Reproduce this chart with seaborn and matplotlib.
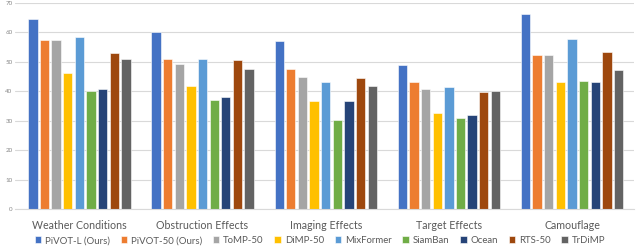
import pandas as pd
import seaborn as sns
import matplotlib.pyplot as plt

categories = ["Weather Conditions", "Obstruction Effects", "Imaging Effects",
              "Target Effects", "Camouflage"]

trackers = ["PiVOT-L (Ours)", "PiVOT-50 (Ours)", "ToMP-50", "DiMP-50",
            "MixFormer", "SiamBan", "Ocean", "RTS-50", "TrDiMP"]

pivot_l = [64.5, 60.0, 57.0, 49.0, 66.3]
pivot_50 = [57.5, 50.9, 47.7, 43.0, 52.3]
tomp_50 = [57.5, 49.3, 44.9, 40.7, 52.3]
dimp_50 = [46.3, 41.7, 36.6, 32.7, 43.0]
mixformer = [58.3, 50.9, 43.3, 41.6, 57.7]
siamban = [40.1, 37.0, 30.2, 30.8, 43.6]
ocean = [40.7, 38.1, 36.6, 32.1, 43.1]
rts_50 = [53.0, 50.6, 44.6, 39.8, 53.5]
trdimp = [50.9, 47.5, 41.7, 40.1, 47.2]

series = [pivot_l, pivot_50, tomp_50, dimp_50, mixformer,
          siamban, ocean, rts_50, trdimp]

colors = ["#4472C4", "#ED7D31", "#A5A5A5", "#FFC000", "#5B9BD5",
          "#70AD47", "#264478", "#9E480E", "#636363"]

rows = []
for name, vals in zip(trackers, series):
    for cat, v in zip(categories, vals):
        rows.append({"category": cat, "tracker": name, "value": v})
df = pd.DataFrame(rows)

sns.set_style("white")
plt.rcParams['font.family'] = ['Lato', 'DejaVu Sans']

fig = plt.figure(figsize=(6.4, 2.5), dpi=100)
ax = fig.add_axes([0.024, 0.164, 0.966, 0.824])

sns.barplot(
    data=df, x="category", y="value", hue="tracker",
    order=categories, hue_order=trackers, palette=colors,
    saturation=1, width=0.85, gap=0.2, ax=ax, legend=True,
    edgecolor="white", linewidth=0.4,
)

ax.set_ylim(0, 70)
ax.set_yticks(range(0, 71, 10))
ax.yaxis.grid(True, color="#D9D9D9", linewidth=0.8)
ax.set_axisbelow(True)
ax.set_xlim(-0.52, 4.5)
for s in ["top", "right", "left"]:
    ax.spines[s].set_visible(False)
ax.spines["bottom"].set_color("#D9D9D9")
ax.set_xlabel("")
ax.set_ylabel("")
ax.tick_params(axis="y", labelsize=4.5, colors="#888888", length=0, pad=2)
ax.tick_params(axis="x", labelsize=7.7, colors="#595959", length=0, pad=8)

handles, labels = ax.get_legend_handles_labels()
ax.get_legend().remove()
fig.legend(handles, labels, loc="lower center", ncol=9, frameon=False,
           fontsize=6.9, labelcolor="#595959", handlelength=0.7,
           handleheight=0.7, handletextpad=0.4, columnspacing=1.1,
           bbox_to_anchor=(0.5, -0.015))

fig.savefig("out.png", dpi=100)
